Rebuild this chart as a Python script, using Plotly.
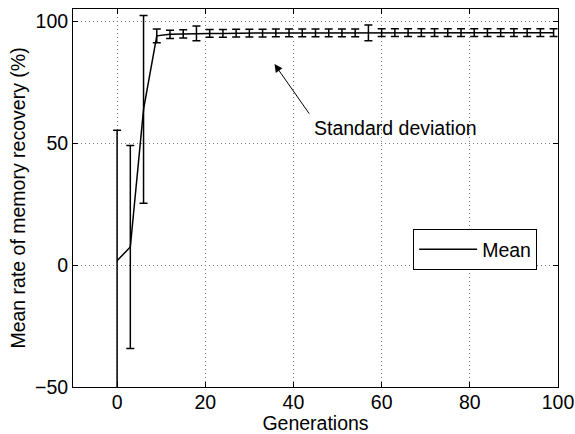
import plotly.graph_objects as go

generations = [0, 3, 6, 9, 12, 15, 18, 21, 24, 27, 30, 33, 36, 39, 42, 45, 48,
               51, 54, 57, 60, 63, 66, 69, 72, 75, 78, 81, 84, 87, 90, 93, 96, 99]
mean_rate = [1.8, 7.4, 63.8, 94.0, 94.6, 94.8, 95.0, 95.0, 95.0, 95.1, 95.1, 95.1,
             95.2, 95.2, 95.2, 95.2, 95.2, 95.2, 95.2, 95.2, 95.3, 95.3, 95.3, 95.3,
             95.3, 95.3, 95.3, 95.3, 95.3, 95.3, 95.3, 95.3, 95.3, 95.3]
std_dev = [53.5, 41.6, 38.5, 2.8, 1.7, 1.7, 3.0, 1.6, 1.6, 1.6, 1.6, 1.6,
           1.6, 1.6, 1.6, 1.6, 1.6, 1.6, 1.6, 3.2, 1.6, 1.6, 1.6, 1.6,
           1.6, 1.6, 1.6, 1.6, 1.6, 1.6, 1.6, 1.6, 1.6, 1.6]

x_ticks = [0, 20, 40, 60, 80, 100]
y_ticks = [-50, 0, 50, 100]

FONT = "Liberation Sans, Arial, Helvetica, sans-serif"
FS = 19.5

fig = go.Figure()
fig.add_trace(go.Scatter(
    x=generations, y=mean_rate, mode="lines", name="Mean",
    line=dict(color="black", width=1.5),
    error_y=dict(type="data", array=std_dev, visible=True,
                 color="black", thickness=1.5, width=4),
))

axis_common = dict(
    showline=True, linecolor="black", linewidth=1, mirror="ticks",
    ticks="inside", ticklen=5, tickcolor="black",
    showgrid=True, gridcolor="#777777", griddash="1px,3px", gridwidth=1,
    zeroline=False, automargin=False,
    tickfont=dict(family=FONT, size=FS, color="black"),
    title_font=dict(family=FONT, size=FS, color="black"),
)

fig.update_xaxes(range=[-10, 100], tickvals=x_ticks, title_text="Generations",
                 title_standoff=2, ticklabelstandoff=-2, **axis_common)
fig.update_yaxes(range=[-50, 105], tickvals=y_ticks,
                 ticktext=["\u221250", "0", "50", "100"],
                 title_text="Mean rate of memory recovery (%)",
                 title_standoff=4, **axis_common)

fig.add_annotation(x=35.7, y=82.4, ax=43.8, ay=61.5, axref="x", ayref="y",
                   xref="x", yref="y", text="", showarrow=True,
                   arrowhead=2, arrowsize=1.6, arrowwidth=1, arrowcolor="black")
fig.add_annotation(x=44.3, y=56.1, xref="x", yref="y", text="Standard deviation",
                   showarrow=False, xanchor="left", yanchor="middle",
                   font=dict(family=FONT, size=FS, color="black"))

fig.update_layout(
    width=575, height=434,
    margin=dict(l=73, r=17, t=9, b=47),
    plot_bgcolor="white", paper_bgcolor="white",
    showlegend=True,
    legend=dict(x=0.957, y=0.418, xanchor="right", yanchor="top",
                bordercolor="black", borderwidth=1, bgcolor="white",
                itemwidth=58,
                font=dict(family=FONT, size=FS, color="black")),
)

fig.write_html("out.html")
